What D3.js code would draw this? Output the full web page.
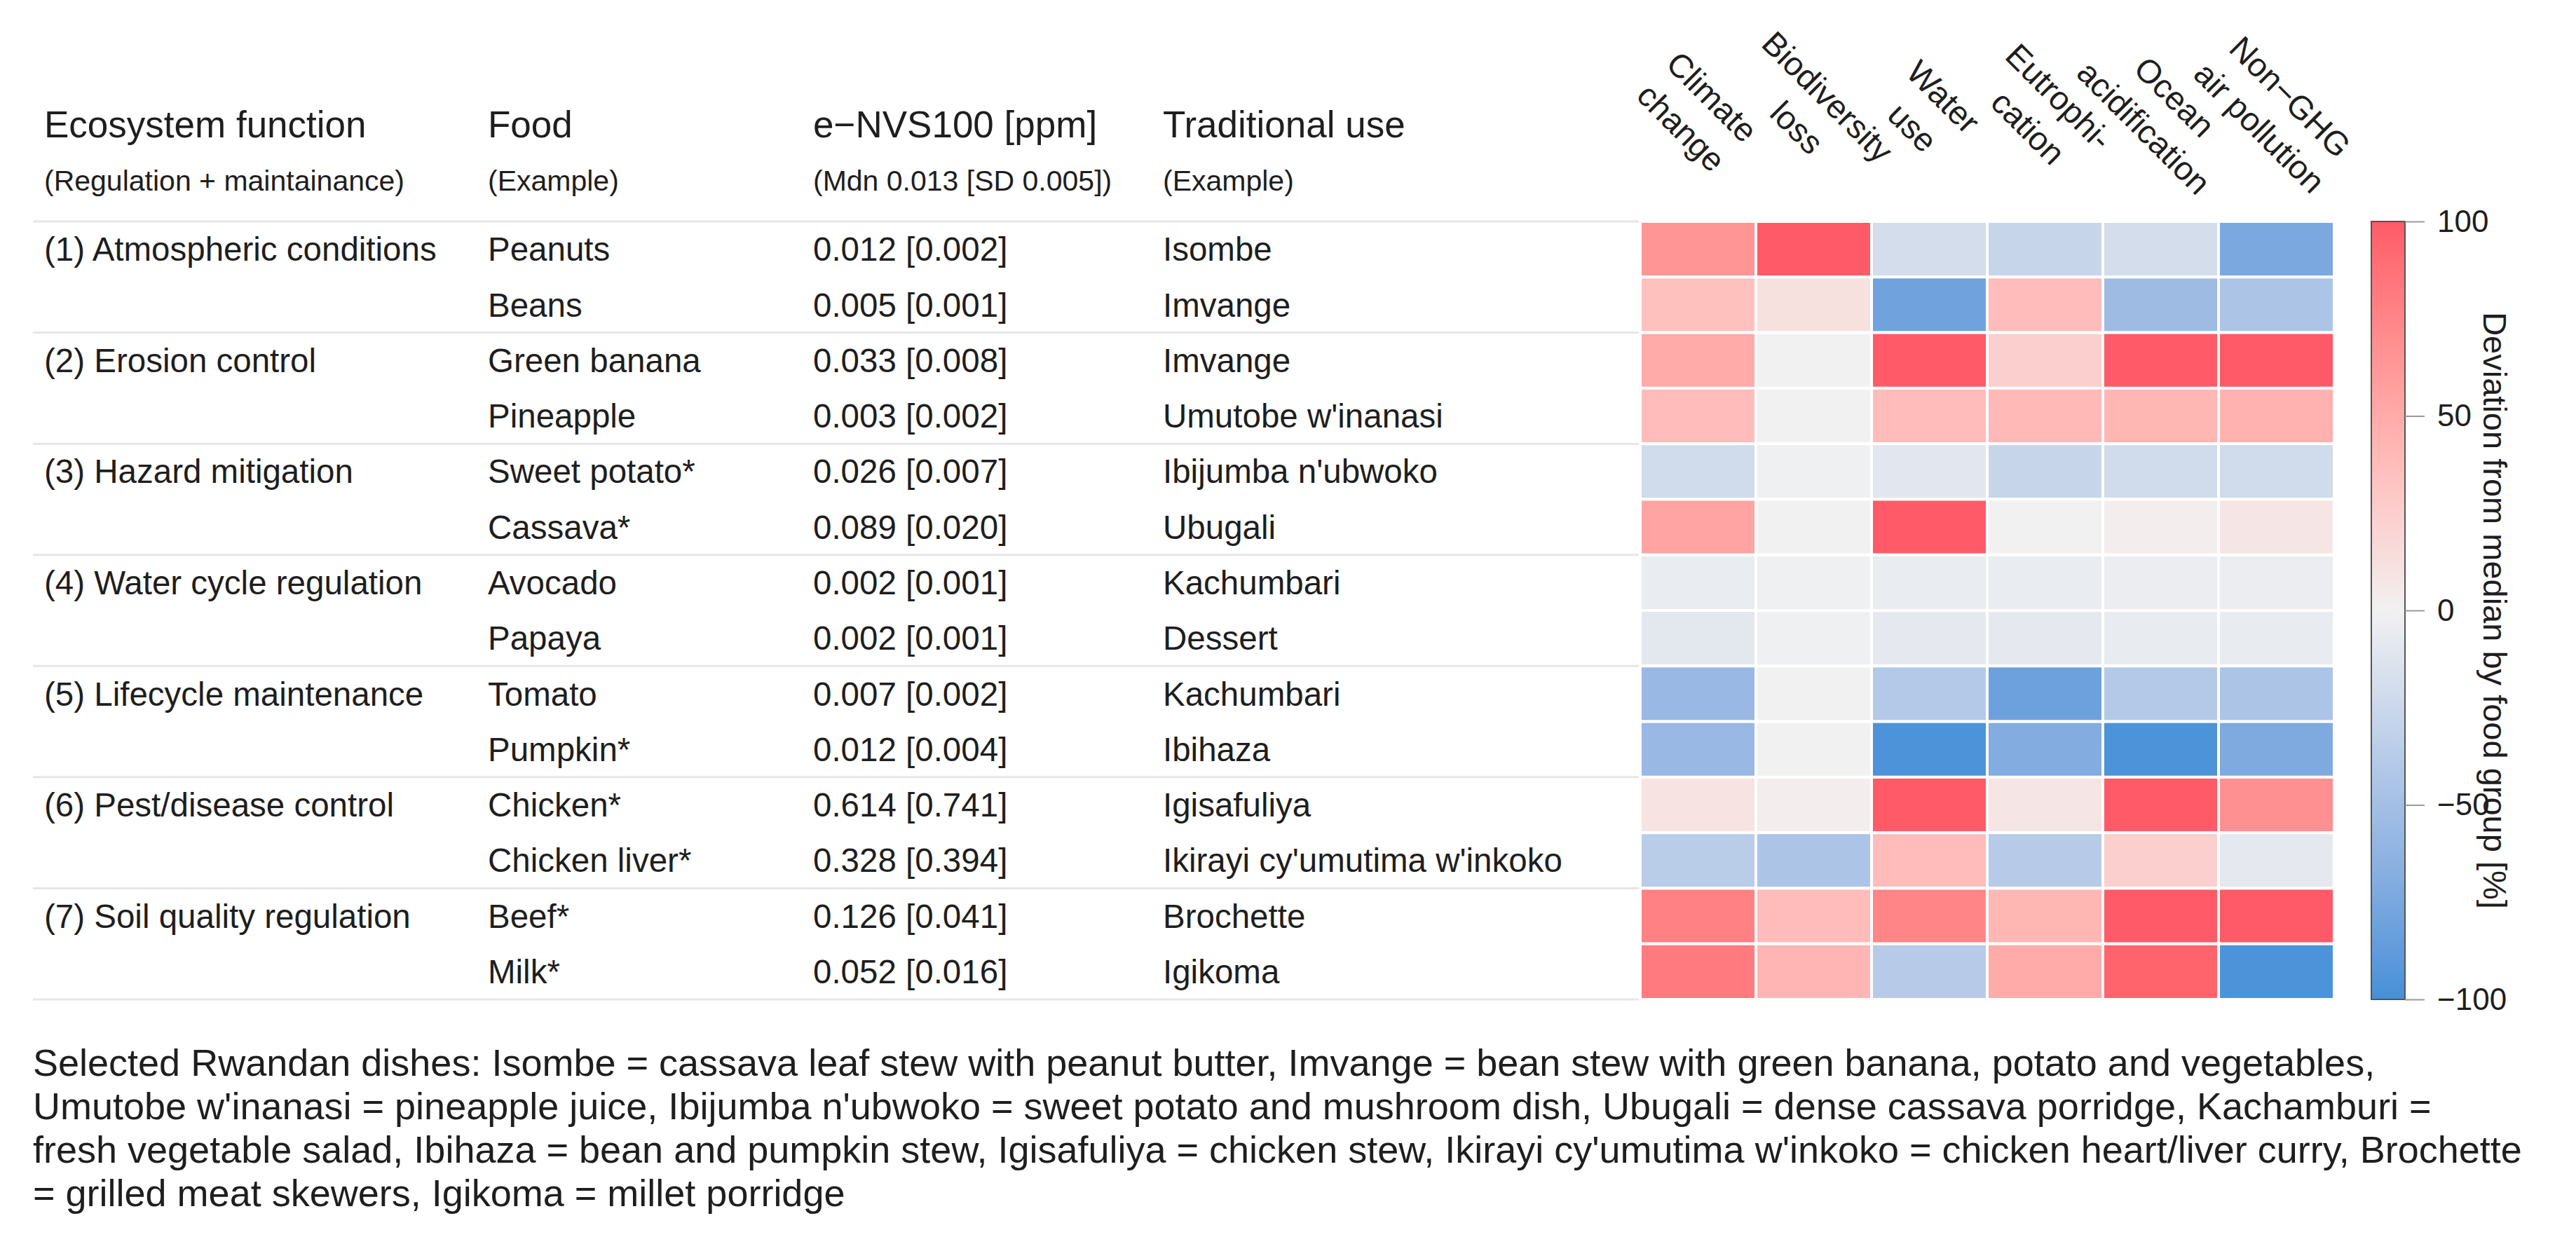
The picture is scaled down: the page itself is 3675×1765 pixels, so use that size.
<!DOCTYPE html>
<html>
<head>
<meta charset="utf-8">
<script src="https://cdn.jsdelivr.net/npm/d3@7"></script>
<style>
  body { margin: 0; background: #fff; }
  text { font-family: "Liberation Sans", Arial, Helvetica, sans-serif; fill: #1e1e1e; }
</style>
</head>
<body>
<div id="chart"></div>
<script>
// ecosystem functions (one per pair of foods)
var groups = ["(1) Atmospheric conditions", "(2) Erosion control", "(3) Hazard mitigation",
  "(4) Water cycle regulation", "(5) Lifecycle maintenance", "(6) Pest/disease control",
  "(7) Soil quality regulation"];

var foods = ["Peanuts", "Beans", "Green banana", "Pineapple", "Sweet potato*", "Cassava*",
  "Avocado", "Papaya", "Tomato", "Pumpkin*", "Chicken*", "Chicken liver*", "Beef*", "Milk*"];

var nvsMedian = [0.012, 0.005, 0.033, 0.003, 0.026, 0.089, 0.002, 0.002, 0.007, 0.012, 0.614, 0.328, 0.126, 0.052];
var nvsSd     = [0.002, 0.001, 0.008, 0.002, 0.007, 0.020, 0.001, 0.001, 0.002, 0.004, 0.741, 0.394, 0.041, 0.016];

var dishes = ["Isombe", "Imvange", "Imvange", "Umutobe w'inanasi", "Ibijumba n'ubwoko", "Ubugali",
  "Kachumbari", "Dessert", "Kachumbari", "Ibihaza", "Igisafuliya", "Ikirayi cy'umutima w'inkoko",
  "Brochette", "Igikoma"];

var impacts = ["Climate\nchange", "Biodiversity\nloss", "Water\nuse", "Eutrophi-\ncation",
  "Ocean\nacidification", "Non\u2212GHG\nair pollution"];

// deviation from median by food group [%], one array per impact, rows in food order
var climateChange     = [65, 35, 50, 38, -22, 55, -5, -9, -57, -57, 10, -37, 78, 82];
var biodiversityLoss  = [100, 12, 0, 0, -1, 0, -1, -1, 0, 0, 3, -45, 38, 43];
var waterUse          = [-20, -80, 100, 38, -10, 100, -5, -8, -40, -97, 100, 38, 75, -38];
var eutrophication    = [-28, 38, 25, 40, -28, 0, -5, -8, -82, -70, 8, -38, 42, 50];
var oceanAcid         = [-20, -54, 100, 42, -22, 3, -4, -6, -40, -97, 100, 25, 100, 95];
var nonGhgAir         = [-74, -45, 100, 45, -22, 8, -4, -6, -45, -72, 68, -8, 100, -97];
var series = [climateChange, biodiversityLoss, waterUse, eutrophication, oceanAcid, nonGhgAir];

var legendTicks = [-100, -50, 0, 50, 100];

var captionLines = [
  "Selected Rwandan dishes: Isombe = cassava leaf stew with peanut butter, Imvange = bean stew with green banana, potato and vegetables,",
  "Umutobe w'inanasi = pineapple juice, Ibijumba n'ubwoko = sweet potato and mushroom dish, Ubugali = dense cassava porridge, Kachamburi =",
  "fresh vegetable salad, Ibihaza = bean and pumpkin stew, Igisafuliya = chicken stew, Ikirayi cy'umutima w'inkoko = chicken heart/liver curry, Brochette",
  "= grilled meat skewers, Igikoma = millet porridge"
];

var W = 3675, H = 1765;
var tableTop = 316, tableBottom = 1426;
var colLeft = [63, 696, 1160, 1659];

var svg = d3.select("#chart").append("svg")
  .attr("width", W).attr("height", H)
  .attr("viewBox", "0 0 " + W + " " + H);

var y = d3.scaleBand().domain(foods).range([tableTop, tableBottom]);
var x = d3.scaleBand().domain(impacts).range([2340, 3330]);
var color = d3.scaleLinear().domain([-100, 0, 100])
  .range(["#4590d8", "#f1f1f1", "#ff5a67"])
  .interpolate(d3.interpolateLab).clamp(true);

// header
var headers = [
  ["Ecosystem function", "(Regulation + maintainance)"],
  ["Food", "(Example)"],
  ["e\u2212NVS100 [ppm]", "(Mdn 0.013 [SD 0.005])"],
  ["Traditional use", "(Example)"]
];
var head = svg.append("g").selectAll("g").data(headers).enter().append("g");
head.append("text").attr("x", function(d, i) { return colLeft[i]; }).attr("y", 196)
  .style("font-size", "53px").text(function(d) { return d[0]; });
head.append("text").attr("x", function(d, i) { return colLeft[i]; }).attr("y", 272)
  .style("font-size", "41px").text(function(d) { return d[1]; });

// group separators
var sepY = [];
for (var k = 0; k <= foods.length; k += 2) sepY.push(k < foods.length ? y(foods[k]) : tableBottom);
svg.append("g").selectAll("line").data(sepY).enter().append("line")
  .attr("x1", 47).attr("x2", 3330)
  .attr("y1", function(d) { return d; }).attr("y2", function(d) { return d; })
  .attr("stroke", "#e6e6e6").attr("stroke-width", 3);

// table body
var fmt = d3.format(".3f");
var rows = svg.append("g").selectAll("g").data(foods).enter().append("g")
  .attr("transform", function(d) { return "translate(0," + (y(d) + y.bandwidth() / 2) + ")"; })
  .style("font-size", "47.5px");
rows.append("text").attr("x", colLeft[0]).attr("dy", "0.35em")
  .text(function(d, i) { return i % 2 === 0 ? groups[i / 2] : ""; });
rows.append("text").attr("x", colLeft[1]).attr("dy", "0.35em").text(function(d) { return d; });
rows.append("text").attr("x", colLeft[2]).attr("dy", "0.35em")
  .text(function(d, i) { return fmt(nvsMedian[i]) + " [" + fmt(nvsSd[i]) + "]"; });
rows.append("text").attr("x", colLeft[3]).attr("dy", "0.35em").text(function(d, i) { return dishes[i]; });

// heatmap
var cells = [];
foods.forEach(function(f, i) {
  impacts.forEach(function(imp, j) { cells.push({ food: f, impact: imp, value: series[j][i] }); });
});
svg.append("g").selectAll("rect").data(cells).enter().append("rect")
  .attr("x", function(d) { return x(d.impact); })
  .attr("y", function(d) { return y(d.food); })
  .attr("width", x.bandwidth()).attr("height", y.bandwidth())
  .attr("fill", function(d) { return color(d.value); })
  .attr("stroke", "#fff").attr("stroke-width", 4);

// rotated column labels
var colLab = svg.append("g").selectAll("g").data(impacts).enter().append("g")
  .attr("transform", function(d) { return "translate(" + (x(d) + x.bandwidth() / 2 - 2) + ",160) rotate(45)"; })
  .style("font-size", "47px");
colLab.append("text").attr("text-anchor", "middle").attr("y", -31).attr("dy", "0.35em")
  .text(function(d) { return d.split("\n")[0]; });
colLab.append("text").attr("text-anchor", "middle").attr("y", 31).attr("dy", "0.35em")
  .text(function(d) { return d.split("\n")[1]; });

// colour bar
var legendY = d3.scaleLinear().domain([-100, 100]).range([tableBottom, tableTop]);
var grad = svg.append("defs").append("linearGradient").attr("id", "cbar")
  .attr("x1", 0).attr("y1", 0).attr("x2", 0).attr("y2", 1);
grad.selectAll("stop").data(d3.range(0, 1.0001, 0.05)).enter().append("stop")
  .attr("offset", function(t) { return t; })
  .attr("stop-color", function(t) { return color(100 - 200 * t); });
svg.append("rect").attr("x", 3383).attr("y", tableTop).attr("width", 48)
  .attr("height", tableBottom - tableTop).attr("fill", "url(#cbar)")
  .attr("stroke", "#555").attr("stroke-width", 2);

var axis = svg.append("g").attr("transform", "translate(3431,0)")
  .call(d3.axisRight(legendY).tickValues(legendTicks).tickSize(28).tickPadding(18));
axis.select(".domain").remove();
axis.selectAll(".tick line").attr("stroke", "#999").attr("stroke-width", 2);
axis.selectAll(".tick text").style("font-size", "44px")
  .style("font-family", "'Liberation Sans', Arial, sans-serif").attr("fill", "#1e1e1e");

svg.append("text")
  .attr("transform", "translate(3543," + legendY(0) + ") rotate(90)")
  .attr("text-anchor", "middle").style("font-size", "47px")
  .text("Deviation from median by food group [%]");

// caption
svg.append("g").selectAll("text").data(captionLines).enter().append("text")
  .attr("x", 47).attr("y", function(d, i) { return 1535 + i * 62; })
  .style("font-size", "54px").attr("fill", "#2a2a2a")
  .text(function(d) { return d; });
</script>
</body>
</html>
